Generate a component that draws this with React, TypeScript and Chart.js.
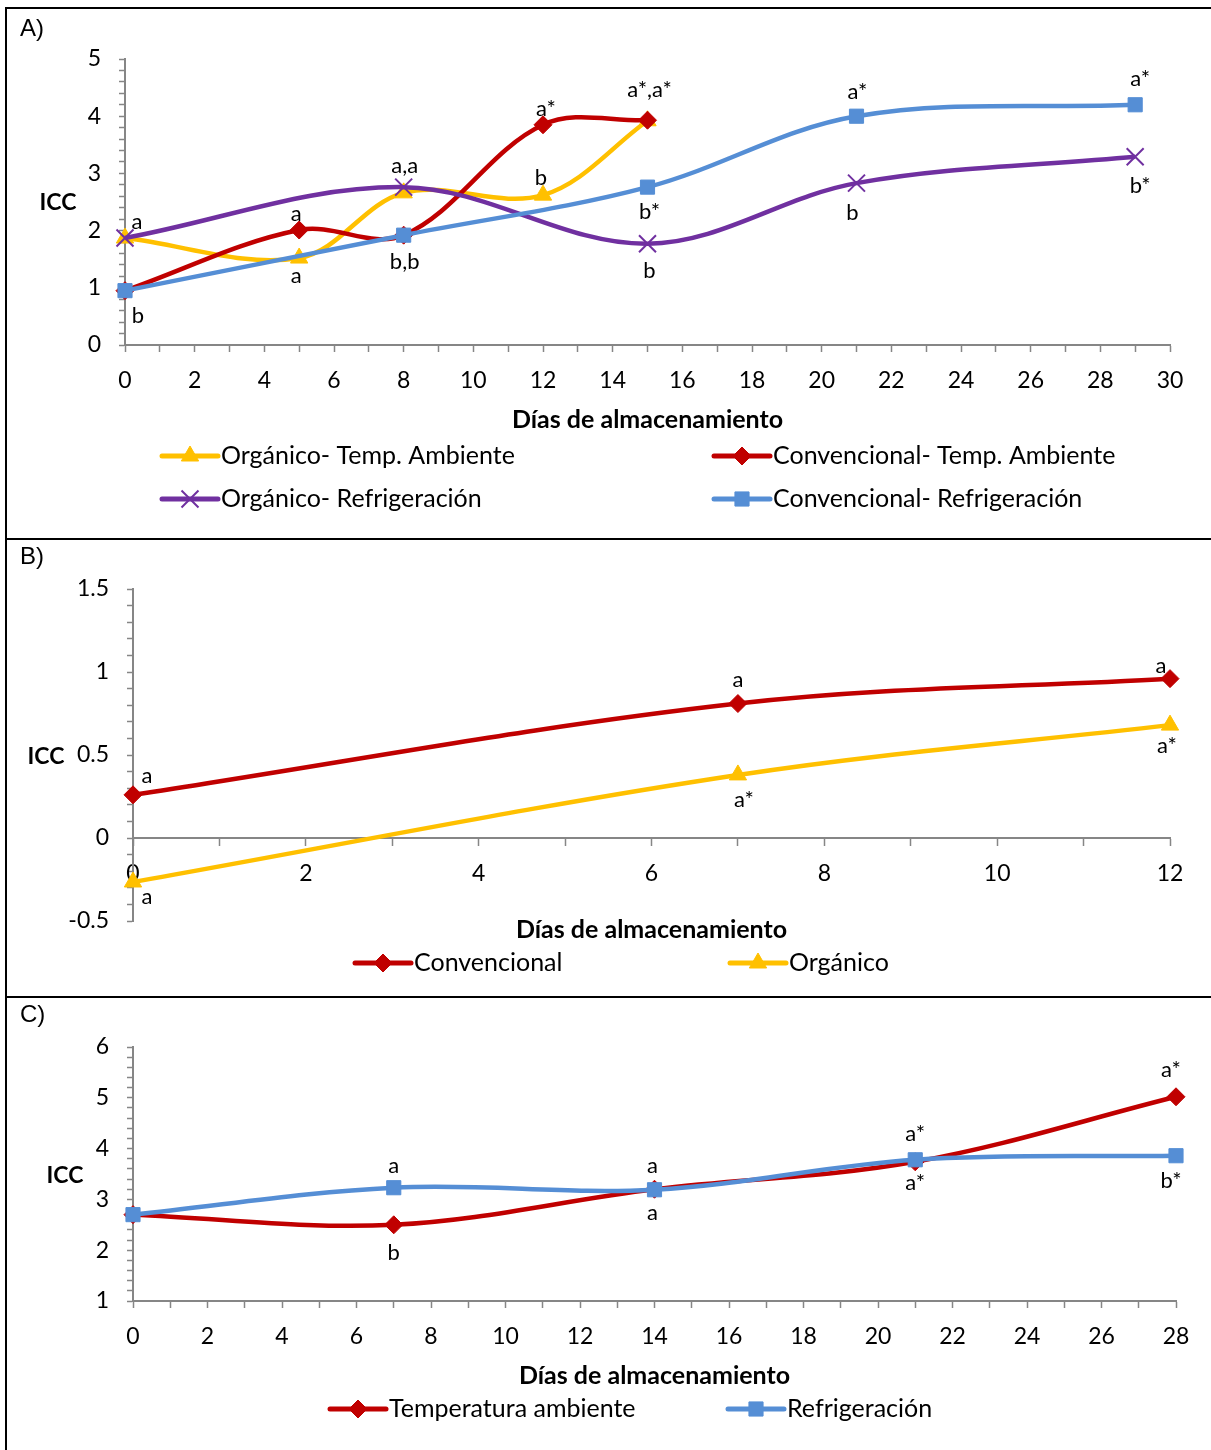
import React, { useEffect, useRef } from 'react';
import { Chart, registerables } from 'chart.js';
import { drawPoint } from 'chart.js/helpers';

Chart.register(...registerables);

const FONT = 'Lato, "Open Sans", sans-serif';
const AXIS = '#868686';
const YELLOW = '#FFC000';
const RED = '#C00000';
const PURPLE = '#7030A0';
const BLUE = '#558ED5';

// ---------------- Panel A data ----------------
const A_DAYS_TA = [0, 5, 8, 12, 15];
const A_DAYS_REF = [0, 8, 15, 21, 29];
const A_ORG_TA = [1.87, 1.52, 2.66, 2.62, 3.92];
const A_CONV_TA = [0.95, 2.01, 1.92, 3.85, 3.93];
const A_ORG_REF = [1.87, 2.76, 1.77, 2.83, 3.29];
const A_CONV_REF = [0.95, 1.92, 2.76, 4.0, 4.2];
const A_NAMES = ['Orgánico- Temp. Ambiente', 'Convencional- Temp. Ambiente', 'Orgánico- Refrigeración', 'Convencional- Refrigeración'];
const A_LET_ORG_TA = ['a', 'a', 'a,a', 'b', 'a*,a*'];
const A_LET_CONV_TA = ['b', 'a', 'b,b', 'a*', ''];
const A_LET_ORG_REF = ['', '', 'b', 'b', 'b*'];
const A_LET_CONV_REF = ['', '', 'b*', 'a*', 'a*'];

// ---------------- Panel B data ----------------
const B_DAYS = [0, 7, 12];
const B_CONV = [0.26, 0.81, 0.96];
const B_ORG = [-0.265, 0.38, 0.68];
const B_NAMES = ['Convencional', 'Orgánico'];
const B_LET_CONV = ['a', 'a', 'a'];
const B_LET_ORG = ['a', 'a*', 'a*'];

// ---------------- Panel C data ----------------
const C_DAYS = [0, 7, 14, 21, 28];
const C_TA = [2.7, 2.5, 3.2, 3.74, 5.02];
const C_REF = [2.7, 3.23, 3.19, 3.78, 3.86];
const C_NAMES = ['Temperatura ambiente', 'Refrigeración'];
const C_LET_TA = ['', 'b', 'a', 'a*', 'a*'];
const C_LET_REF = ['', 'a', 'a', 'a*', 'b*'];

const X_TITLE = 'Días de almacenamiento';
const Y_TITLE = 'ICC';

// label placement offsets (style only)
const OFF_A = [
  [[12, -16], [-3, 18], [1, -27], [-2, -17], [2, -31]],
  [[13, 25], [-3, -16], [1, 27], [3, -16], [0, 0]],
  [[0, 0], [0, 0], [2, 27], [-4, 30], [5, 29]],
  [[0, 0], [0, 0], [2, 25], [1, -24], [5, -26]],
];
const OFF_B = [
  [[14, -19], [0, -24], [-9, -13]],
  [[14, 15], [6, 25], [-3, 21]],
];
const OFF_C = [
  [[0, 0], [0, 28], [-2, 24], [0, 21], [-5, -27]],
  [[0, 0], [0, -22], [-2, -24], [0, -26], [-5, 25]],
];

function series(label: string, xs: number[], ys: number[], color: string, pointStyle: string, radius: number, order: number, letters: string[], offsets: number[][]) {
  return {
    label,
    data: xs.map((x, i) => ({ x, y: ys[i] })),
    borderColor: color,
    backgroundColor: color,
    borderWidth: 4.5,
    pointStyle,
    pointRadius: radius,
    pointHoverRadius: radius,
    pointBorderWidth: pointStyle === 'crossRot' ? 2 : 1,
    pointBackgroundColor: color,
    pointBorderColor: color,
    tension: 0.35,
    fill: false,
    clip: false,
    order,
    letters,
    letterOffsets: offsets,
  };
}

const decorPlugin = {
  id: 'decor',
  afterDatasetsDraw(chart: any) {
    const ctx = chart.ctx;
    ctx.save();
    ctx.fillStyle = '#000';
    ctx.font = `22px ${FONT}`;
    ctx.textAlign = 'center';
    ctx.textBaseline = 'middle';
    chart.data.datasets.forEach((ds: any, di: number) => {
      const meta = chart.getDatasetMeta(di);
      (ds.letters || []).forEach((t: string, i: number) => {
        if (!t) return;
        const el = meta.data[i];
        const off = ds.letterOffsets[i];
        ctx.fillText(t, el.x + off[0], el.y + off[1]);
      });
    });
    ctx.restore();
  },
  afterDraw(chart: any, _a: any, o: any) {
    const ctx = chart.ctx;
    const ca = chart.chartArea;
    ctx.save();
    ctx.fillStyle = '#000';
    ctx.textBaseline = 'middle';
    ctx.textAlign = 'left';
    ctx.font = '24px "Liberation Sans", Arial, sans-serif';
    ctx.fillText(o.panel, 20, o.panelY);
    ctx.textAlign = 'center';
    ctx.font = `bold 23px ${FONT}`;
    ctx.fillText(Y_TITLE, o.iccX, o.iccY);
    ctx.font = `bold 25px ${FONT}`;
    ctx.fillText(X_TITLE, (ca.left + ca.right) / 2, o.xTitleY);
    ctx.textAlign = 'left';
    const items = o.legend as any[];
    for (let k = 0; k < items.length; k++) {
      const item = items[k];
      const ds = chart.data.datasets[item.ds];
      ctx.strokeStyle = ds.borderColor;
      ctx.lineWidth = 5;
      ctx.lineCap = 'round';
      ctx.beginPath();
      ctx.moveTo(item.x, item.y);
      ctx.lineTo(item.x + 56, item.y);
      ctx.stroke();
      ctx.lineCap = 'butt';
      ctx.fillStyle = ds.borderColor;
      ctx.lineWidth = ds.pointBorderWidth;
      drawPoint(ctx, { pointStyle: ds.pointStyle, radius: ds.pointRadius, borderWidth: ds.pointBorderWidth, rotation: 0 } as any, item.x + 28, item.y);
      ctx.fillStyle = '#000';
      ctx.font = `25px ${FONT}`;
      ctx.fillText(ds.label, item.x + 59, item.y);
    }
    ctx.restore();
  },
};

type Spec = {
  height: number;
  datasets: any[];
  xMin: number; xMax: number;
  yMin: number; yMax: number; yStep: number; yLabel: (v: number) => string;
  xAtZero: boolean;
  area: { top: number; left: number; right: number; bottom: number };
  decor: any;
};

function buildConfig(s: Spec): any {
  const xH = 70;
  const padBottom = s.xAtZero ? s.height - s.area.bottom : s.height - s.area.bottom - xH;
  return {
    type: 'line',
    data: { datasets: s.datasets },
    plugins: [decorPlugin],
    options: {
      responsive: false,
      animation: false,
      devicePixelRatio: 1,
      events: [],
      layout: {
        padding: { top: s.area.top, left: 0, right: 1211 - s.area.right, bottom: padBottom },
      },
      plugins: { legend: { display: false }, tooltip: { enabled: false }, decor: s.decor },
      scales: {
        x: {
          type: 'linear',
          min: s.xMin,
          max: s.xMax,
          position: s.xAtZero ? { y: 0 } : 'bottom',
          afterFit: (sc: any) => { sc.height = xH; },
          grid: { display: true, drawOnChartArea: false, drawTicks: true, tickLength: 7, tickColor: AXIS, tickWidth: 1.5 },
          border: { display: true, color: AXIS, width: 2 },
          ticks: {
            stepSize: 1, autoSkip: false, maxRotation: 0, minRotation: 0, padding: 15, color: '#000',
            font: { family: FONT, size: 23 },
            callback: (v: number) => (Math.round(v) % 2 === 0 ? String(v) : ''),
          },
        },
        y: {
          type: 'linear',
          min: s.yMin,
          max: s.yMax,
          afterFit: (sc: any) => { sc.width = s.area.left; },
          grid: { display: true, drawOnChartArea: false, drawTicks: true, tickLength: 6, tickColor: AXIS, tickWidth: 1.5 },
          border: { display: true, color: AXIS, width: 2 },
          ticks: {
            stepSize: s.yStep, autoSkip: false, padding: 18, color: '#000', maxTicksLimit: 1000,
            font: { family: FONT, size: 23 },
            callback: (v: number) => s.yLabel(v),
          },
        },
      },
    },
  };
}

const intLabel = (v: number) => (Math.abs(v - Math.round(v)) < 1e-6 ? String(Math.round(v)) : '');
const halfLabel = (v: number) => (Math.abs(v * 2 - Math.round(v * 2)) < 1e-6 ? String(Math.round(v * 2) / 2) : '');

function specA(): Spec {
  return {
    height: 538,
    datasets: [
      series(A_NAMES[0], A_DAYS_TA, A_ORG_TA, YELLOW, 'triangle', 10, 4, A_LET_ORG_TA, OFF_A[0]),
      series(A_NAMES[1], A_DAYS_TA, A_CONV_TA, RED, 'rectRot', 9, 3, A_LET_CONV_TA, OFF_A[1]),
      series(A_NAMES[2], A_DAYS_REF, A_ORG_REF, PURPLE, 'crossRot', 12, 2, A_LET_ORG_REF, OFF_A[2]),
      series(A_NAMES[3], A_DAYS_REF, A_CONV_REF, BLUE, 'rect', 10, 1, A_LET_CONV_REF, OFF_A[3]),
    ],
    xMin: 0, xMax: 30, yMin: 0, yMax: 5, yStep: 0.2, yLabel: intLabel, xAtZero: false,
    area: { top: 59, left: 125, right: 1170, bottom: 345 },
    decor: {
      panel: 'A)', panelY: 29, iccX: 58, iccY: 203, xTitleY: 420,
      legend: [
        { ds: 0, x: 162, y: 456 }, { ds: 1, x: 714, y: 456 },
        { ds: 2, x: 162, y: 499 }, { ds: 3, x: 714, y: 499 },
      ],
    },
  };
}

function specB(): Spec {
  return {
    height: 458,
    datasets: [
      series(B_NAMES[0], B_DAYS, B_CONV, RED, 'rectRot', 9, 1, B_LET_CONV, OFF_B[0]),
      series(B_NAMES[1], B_DAYS, B_ORG, YELLOW, 'triangle', 10, 2, B_LET_ORG, OFF_B[1]),
    ],
    xMin: 0, xMax: 12, yMin: -0.5, yMax: 1.5, yStep: 0.1, yLabel: halfLabel, xAtZero: true,
    area: { top: 51, left: 133, right: 1170, bottom: 383 },
    decor: {
      panel: 'B)', panelY: 19, iccX: 46, iccY: 219, xTitleY: 392,
      legend: [{ ds: 0, x: 355, y: 425 }, { ds: 1, x: 730, y: 425 }],
    },
  };
}

function specC(): Spec {
  return {
    height: 454,
    datasets: [
      series(C_NAMES[0], C_DAYS, C_TA, RED, 'rectRot', 9, 2, C_LET_TA, OFF_C[0]),
      series(C_NAMES[1], C_DAYS, C_REF, BLUE, 'rect', 10, 1, C_LET_REF, OFF_C[1]),
    ],
    xMin: 0, xMax: 28, yMin: 1, yMax: 6, yStep: 0.2, yLabel: intLabel, xAtZero: false,
    area: { top: 51, left: 133, right: 1176, bottom: 305 },
    decor: {
      panel: 'C)', panelY: 19, iccX: 65, iccY: 180, xTitleY: 380,
      legend: [{ ds: 0, x: 330, y: 413 }, { ds: 1, x: 728, y: 413 }],
    },
  };
}

function ChartPanel({ top, spec }: { top: number; spec: () => Spec }) {
  const ref = useRef<HTMLCanvasElement>(null);
  const s = spec();
  useEffect(() => {
    const chart = new Chart(ref.current as HTMLCanvasElement, buildConfig(spec()));
    return () => chart.destroy();
  }, []);
  return (
    <canvas
      ref={ref}
      width={1211}
      height={s.height}
      style={{ position: 'absolute', left: 0, top, width: 1211, height: s.height, display: 'block' }}
    />
  );
}

export default function App() {
  return (
    <div style={{ position: 'absolute', left: 0, top: 0, width: 1211, height: 1450, overflow: 'hidden', background: '#fff' }}>
      <style>{'html,body{overflow:hidden;}'}</style>
      <ChartPanel top={0} spec={specA} />
      <ChartPanel top={538} spec={specB} />
      <ChartPanel top={996} spec={specC} />
      <div style={{ position: 'absolute', left: 5, top: 7, width: 1300, height: 1500, borderLeft: '2px solid #000', borderTop: '2px solid #000', pointerEvents: 'none' }} />
      <div style={{ position: 'absolute', left: 5, top: 538, width: 1300, height: 2, background: '#000' }} />
      <div style={{ position: 'absolute', left: 5, top: 996, width: 1300, height: 2, background: '#000' }} />
    </div>
  );
}
